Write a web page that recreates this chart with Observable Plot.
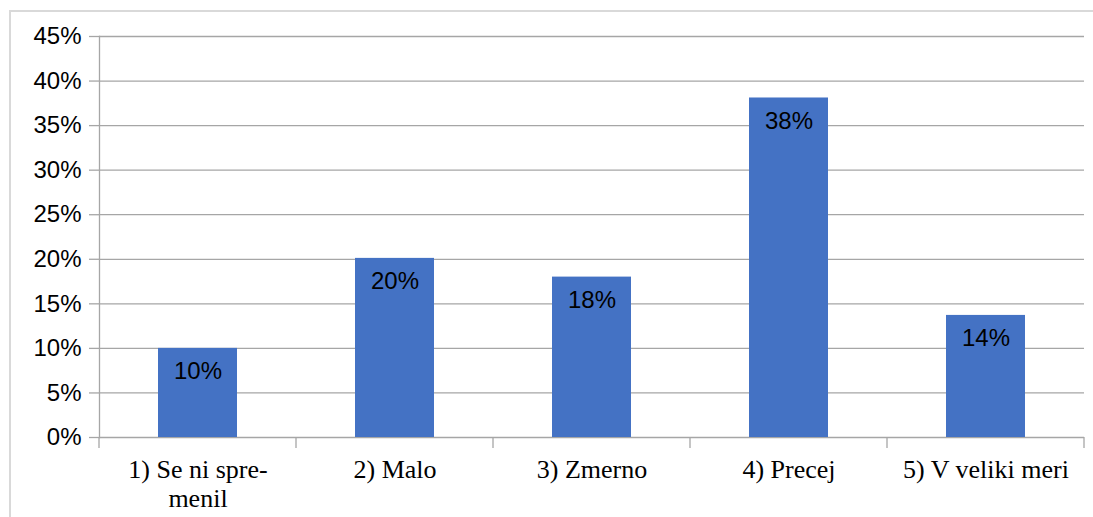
<!DOCTYPE html>
<html>
<head>
<meta charset="utf-8">
<script src="https://cdn.jsdelivr.net/npm/d3@7"></script>
<script src="https://cdn.jsdelivr.net/npm/@observablehq/plot@0.6"></script>
<style>
  html, body { margin: 0; padding: 0; background: #fff; }
  #wrap { position: relative; width: 1093px; height: 517px; overflow: hidden; }
  #frame { position: absolute; left: 9px; top: 10px; width: 1200px; height: 600px;
           border-left: 2px solid #d9d9d9; border-top: 2px solid #d9d9d9; box-sizing: border-box; }
  #chart { position: absolute; left: 0; top: 0; }
</style>
</head>
<body>
<div id="wrap"><div id="frame"></div><div id="chart"></div></div>
<script>
const categories = ["1) Se ni spremenil", "2) Malo", "3) Zmerno", "4) Precej", "5) V veliki meri"];
const tickLabels = ["1) Se ni spre-\nmenil", "2) Malo", "3) Zmerno", "4) Precej", "5) V veliki meri"];
const values = [0.100, 0.201, 0.180, 0.381, 0.137];
const yTicks = [0, 0.05, 0.10, 0.15, 0.20, 0.25, 0.30, 0.35, 0.40, 0.45];

const data = categories.map((c, i) => ({cat: c, value: values[i]}));
const labelOf = new Map(categories.map((c, i) => [c, tickLabels[i]]));

const gridColor = "#a6a6a6";

const plot = Plot.plot({
  width: 1093,
  height: 517,
  marginLeft: 99,
  marginRight: 9,
  marginTop: 36,
  marginBottom: 80,
  style: {background: "transparent", color: "#000"},
  x: {domain: categories, paddingInner: 0.6, paddingOuter: 0.3, label: null},
  y: {domain: [0, 0.45], label: null},
  marks: [
    Plot.gridY(yTicks, {stroke: gridColor, strokeOpacity: 1, strokeWidth: 1.3}),
    Plot.axisY(yTicks, {
      tickFormat: d3.format(".0%"),
      tickSize: 10,
      tickPadding: 8,
      stroke: gridColor,
      strokeWidth: 1.3,
      fontSize: 24,
      fontFamily: "Liberation Sans, Arimo, sans-serif",
      label: null
    }),
    Plot.axisX({
      tickSize: 0,
      tickPadding: 20,
      tickFormat: d => labelOf.get(d),
      fontSize: 26,
      fontFamily: "Liberation Serif, Times New Roman, serif",
      lineHeight: 1.12,
      label: null
    }),
    Plot.barY(data, {x: "cat", y: "value", fill: "#4472c4"}),
    Plot.text(data, {
      x: "cat", y: "value",
      text: d => d3.format(".0%")(d.value),
      dy: 23,
      fontSize: 24,
      fontFamily: "Liberation Sans, Arimo, sans-serif",
      fill: "#000"
    }),
    Plot.frame({anchor: "left", stroke: gridColor, strokeWidth: 1.3})
  ]
});

// x-axis category boundary ticks, positioned via the plot's own x scale
const xs = plot.scale("x");
const ys = plot.scale("y");
const half = xs.step / 2;
const y0 = ys.apply(0);
const bounds = categories.map(c => xs.apply(c) + xs.bandwidth / 2 - half);
bounds.push(xs.apply(categories[categories.length - 1]) + xs.bandwidth / 2 + half);
const svg = d3.select(plot);
svg.append("g")
  .attr("stroke", gridColor)
  .attr("stroke-width", 1.3)
  .selectAll("line")
  .data(bounds)
  .join("line")
  .attr("x1", d => d).attr("x2", d => d)
  .attr("y1", y0).attr("y2", y0 + 11);

document.getElementById("chart").appendChild(plot);
</script>
</body>
</html>
